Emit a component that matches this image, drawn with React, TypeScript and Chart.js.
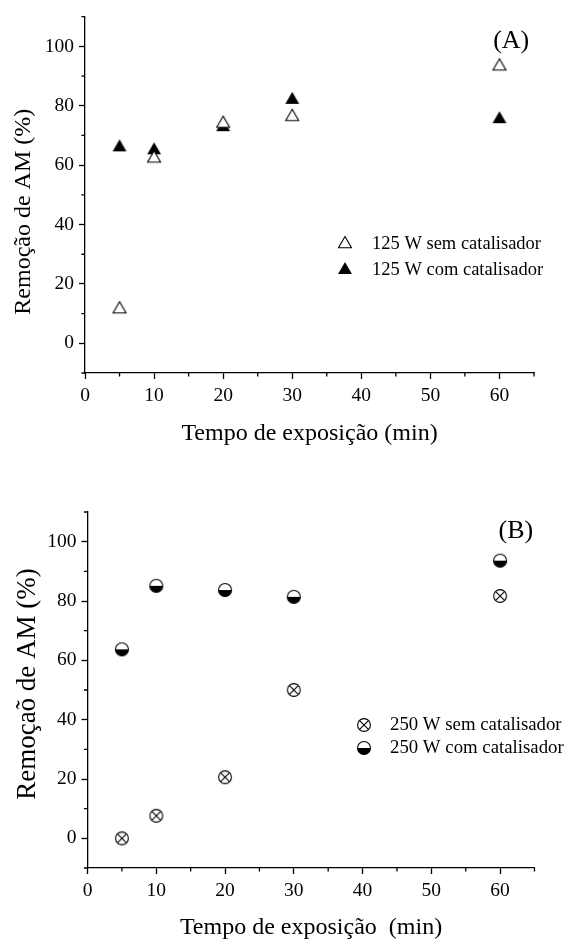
import React, { useEffect, useRef } from "react";
import { Chart, registerables } from "chart.js";

Chart.register(...registerables);

// ---------- data ----------
const xTime = [5, 10, 20, 30, 60];
const semCat125 = [11.5, 62.3, 74, 76.3, 93.3];
const comCat125 = [66, 65, 72.8, 82, 75.5];
const semCat250 = [0, 7.6, 20.6, 50, 81.7];
const comCat250 = [63.7, 85.1, 83.7, 81.4, 93.6];

const xMajorTicks = [0, 10, 20, 30, 40, 50, 60];
const xMinorTicks = [5, 15, 25, 35, 45, 55, 65];
const yMajorTicks = [0, 20, 40, 60, 80, 100];
const yMinorTicks = [-10, 10, 30, 50, 70, 90, 110];

const labelsA = ["125 W sem catalisador", "125 W com catalisador"];
const labelsB = ["250 W sem catalisador", "250 W com catalisador"];
const xTitleA = "Tempo de exposição (min)";
const xTitleB = "Tempo de exposição  (min)";
const yTitleA = "Remoção de AM (%)";
const yTitleB = "Remoçaõ de AM (%)";
const panelA = "(A)";
const panelB = "(B)";

const FONT = '"Liberation Serif", "Times New Roman", serif';

// ---------- markers ----------
function makeMarker(kind: string): HTMLCanvasElement {
  const s = 18;
  const c = document.createElement("canvas");
  c.width = s;
  c.height = s;
  const g = c.getContext("2d") as CanvasRenderingContext2D;
  const cx = s / 2;
  const cy = s / 2;
  g.strokeStyle = "#000";
  g.fillStyle = "#000";
  g.lineWidth = 1.1;
  if (kind === "openTri" || kind === "fillTri") {
    const r = kind === "openTri" ? 7.5 : 8;
    g.beginPath();
    g.moveTo(cx, cy - r);
    g.lineTo(cx + r * 0.866, cy + r / 2);
    g.lineTo(cx - r * 0.866, cy + r / 2);
    g.closePath();
    if (kind === "fillTri") {
      g.fill();
    } else {
      g.fillStyle = "#fff";
      g.fill();
      g.stroke();
    }
  } else if (kind === "halfCircle") {
    const r = 6.5;
    g.fillStyle = "#fff";
    g.beginPath();
    g.arc(cx, cy, r, 0, Math.PI * 2);
    g.fill();
    g.fillStyle = "#000";
    g.beginPath();
    g.arc(cx, cy, r, 0, Math.PI);
    g.closePath();
    g.fill();
    g.beginPath();
    g.arc(cx, cy, r, 0, Math.PI * 2);
    g.stroke();
  } else if (kind === "crossCircle") {
    const r = 6.4;
    g.fillStyle = "#fff";
    g.beginPath();
    g.arc(cx, cy, r, 0, Math.PI * 2);
    g.fill();
    g.stroke();
    const d = r * 0.72;
    g.beginPath();
    g.moveTo(cx - d, cy - d);
    g.lineTo(cx + d, cy + d);
    g.moveTo(cx + d, cy - d);
    g.lineTo(cx - d, cy + d);
    g.stroke();
  }
  return c;
}

// ---------- decoration plugin ----------
const decorPlugin = {
  id: "decor",
  afterDraw(chart: any, _args: any, opts: any) {
    const ctx: CanvasRenderingContext2D = chart.ctx;
    const { left, right, top, bottom } = chart.chartArea;
    const xs = chart.scales.x;
    const ys = chart.scales.y;
    ctx.save();
    // minor ticks
    ctx.strokeStyle = "#000";
    ctx.lineWidth = 1.3;
    ctx.beginPath();
    xMinorTicks.forEach((v) => {
      const p = xs.getPixelForValue(v);
      ctx.moveTo(p, bottom);
      ctx.lineTo(p, bottom + 3.6);
    });
    yMinorTicks.forEach((v) => {
      const p = ys.getPixelForValue(v);
      ctx.moveTo(left, p);
      ctx.lineTo(left - 3.6, p);
    });
    ctx.stroke();

    ctx.fillStyle = "#000";
    // x title
    ctx.font = `${opts.xTitleSize}px ${FONT}`;
    ctx.textAlign = "center";
    ctx.textBaseline = "middle";
    ctx.fillText(opts.xTitle, (left + right) / 2, bottom + opts.xTitleOffset);

    // panel label
    ctx.font = `${opts.panelSize}px ${FONT}`;
    ctx.fillText(
      opts.panel,
      xs.getPixelForValue(opts.panelAt[0]),
      ys.getPixelForValue(opts.panelAt[1])
    );

    // legend
    ctx.font = `${opts.legendSize}px ${FONT}`;
    ctx.textAlign = "left";
    chart.data.datasets.forEach((ds: any, i: number) => {
      const y = opts.legendRows[i];
      const img = ds.pointStyle as HTMLCanvasElement;
      ctx.drawImage(img, opts.legendMarkerX - img.width / 2, y - img.height / 2);
      ctx.fillText(ds.label, opts.legendTextX, y);
    });

    // y title
    ctx.font = `${opts.yTitleSize}px ${FONT}`;
    ctx.textAlign = "center";
    ctx.translate(left - opts.yTitleDx, top + opts.yTitleDy);
    ctx.rotate(-Math.PI / 2);
    ctx.fillText(opts.yTitle, 0, 0);
    ctx.restore();
  },
};

function axisCommon() {
  return {
    type: "linear" as const,
    grid: {
      display: true,
      drawOnChartArea: false,
      drawTicks: true,
      tickLength: 6,
      tickWidth: 1.3,
      tickColor: "#000",
      color: "#000",
    },
    border: { display: true, color: "#000", width: 1.3 },
  };
}

interface PanelCfg {
  width: number;
  height: number;
  sem: number[];
  com: number[];
  labels: string[];
  semMarker: string;
  comMarker: string;
  padTop: number;
  padRight: number;
  yAxisWidth: number;
  xAxisHeight: number;
  decor: any;
}

function Panel({ cfg, top }: { cfg: PanelCfg; top: number }) {
  const ref = useRef<HTMLCanvasElement | null>(null);
  useEffect(() => {
    if (!ref.current) return;
    const semImg = makeMarker(cfg.semMarker);
    const comImg = makeMarker(cfg.comMarker);
    const chart = new Chart(ref.current, {
      type: "scatter",
      data: {
        datasets: [
          {
            label: cfg.labels[0],
            data: xTime.map((x, i) => ({ x, y: cfg.sem[i] })),
            pointStyle: semImg as any,
            pointRadius: 7,
            pointHoverRadius: 7,
            showLine: false,
          },
          {
            label: cfg.labels[1],
            data: xTime.map((x, i) => ({ x, y: cfg.com[i] })),
            pointStyle: comImg as any,
            pointRadius: 7,
            pointHoverRadius: 7,
            showLine: false,
          },
        ],
      },
      options: {
        responsive: false,
        animation: false,
        events: [],
        layout: {
          padding: { left: 0, right: cfg.padRight, top: cfg.padTop, bottom: 0 },
        },
        plugins: {
          legend: { display: false },
          tooltip: { enabled: false },
          decor: cfg.decor,
        } as any,
        scales: {
          x: {
            ...axisCommon(),
            position: "bottom",
            min: 0,
            max: 65,
            afterBuildTicks: (s: any) => {
              s.ticks = xMajorTicks.map((v) => ({ value: v }));
            },
            afterFit: (s: any) => {
              s.height = cfg.xAxisHeight;
            },
            ticks: {
              color: "#000",
              font: { family: FONT, size: 19.5 },
              padding: 5,
              maxRotation: 0,
              autoSkip: false,
            },
          },
          y: {
            ...axisCommon(),
            position: "left",
            min: -10,
            max: 110,
            afterBuildTicks: (s: any) => {
              s.ticks = yMajorTicks.map((v) => ({ value: v }));
            },
            afterFit: (s: any) => {
              s.width = cfg.yAxisWidth;
            },
            ticks: {
              color: "#000",
              font: { family: FONT, size: 19.5 },
              padding: 5,
              autoSkip: false,
            },
          },
        },
      } as any,
      plugins: [decorPlugin as any],
    });
    return () => chart.destroy();
  }, [cfg]);
  return (
    <canvas
      ref={ref}
      width={cfg.width}
      height={cfg.height}
      style={{ position: "absolute", left: 0, top, width: cfg.width, height: cfg.height }}
    />
  );
}

const cfgA: PanelCfg = {
  width: 566,
  height: 470,
  sem: semCat125,
  com: comCat125,
  labels: labelsA,
  semMarker: "openTri",
  comMarker: "fillTri",
  padTop: 16,
  padRight: 32,
  yAxisWidth: 85,
  xAxisHeight: 97,
  decor: {
    xTitle: xTitleA,
    xTitleSize: 24,
    xTitleOffset: 60.3,
    yTitle: yTitleA,
    yTitleSize: 24,
    yTitleDx: 61.3,
    yTitleDy: 195,
    panel: panelA,
    panelSize: 26,
    panelAt: [61.7, 101.9],
    legendSize: 18.5,
    legendMarkerX: 345,
    legendTextX: 372,
    legendRows: [244, 270],
  },
};

const cfgB: PanelCfg = {
  width: 566,
  height: 469,
  sem: semCat250,
  com: comCat250,
  labels: labelsB,
  semMarker: "crossCircle",
  comMarker: "halfCircle",
  padTop: 42,
  padRight: 31.5,
  yAxisWidth: 87.5,
  xAxisHeight: 71,
  decor: {
    xTitle: xTitleB,
    xTitleSize: 24,
    xTitleOffset: 60,
    yTitle: yTitleB,
    yTitleSize: 27,
    yTitleDx: 59.5,
    yTitleDy: 172,
    panel: panelB,
    panelSize: 26,
    panelAt: [62.3, 103.4],
    legendSize: 18.8,
    legendMarkerX: 364,
    legendTextX: 390,
    legendRows: [255, 278],
  },
};

export default function App() {
  return (
    <div
      style={{
        position: "absolute",
        left: 0,
        top: 0,
        width: 566,
        height: 939,
        background: "#fff",
        overflow: "hidden",
      }}
    >
      <Panel cfg={cfgA} top={0} />
      <Panel cfg={cfgB} top={470} />
    </div>
  );
}
